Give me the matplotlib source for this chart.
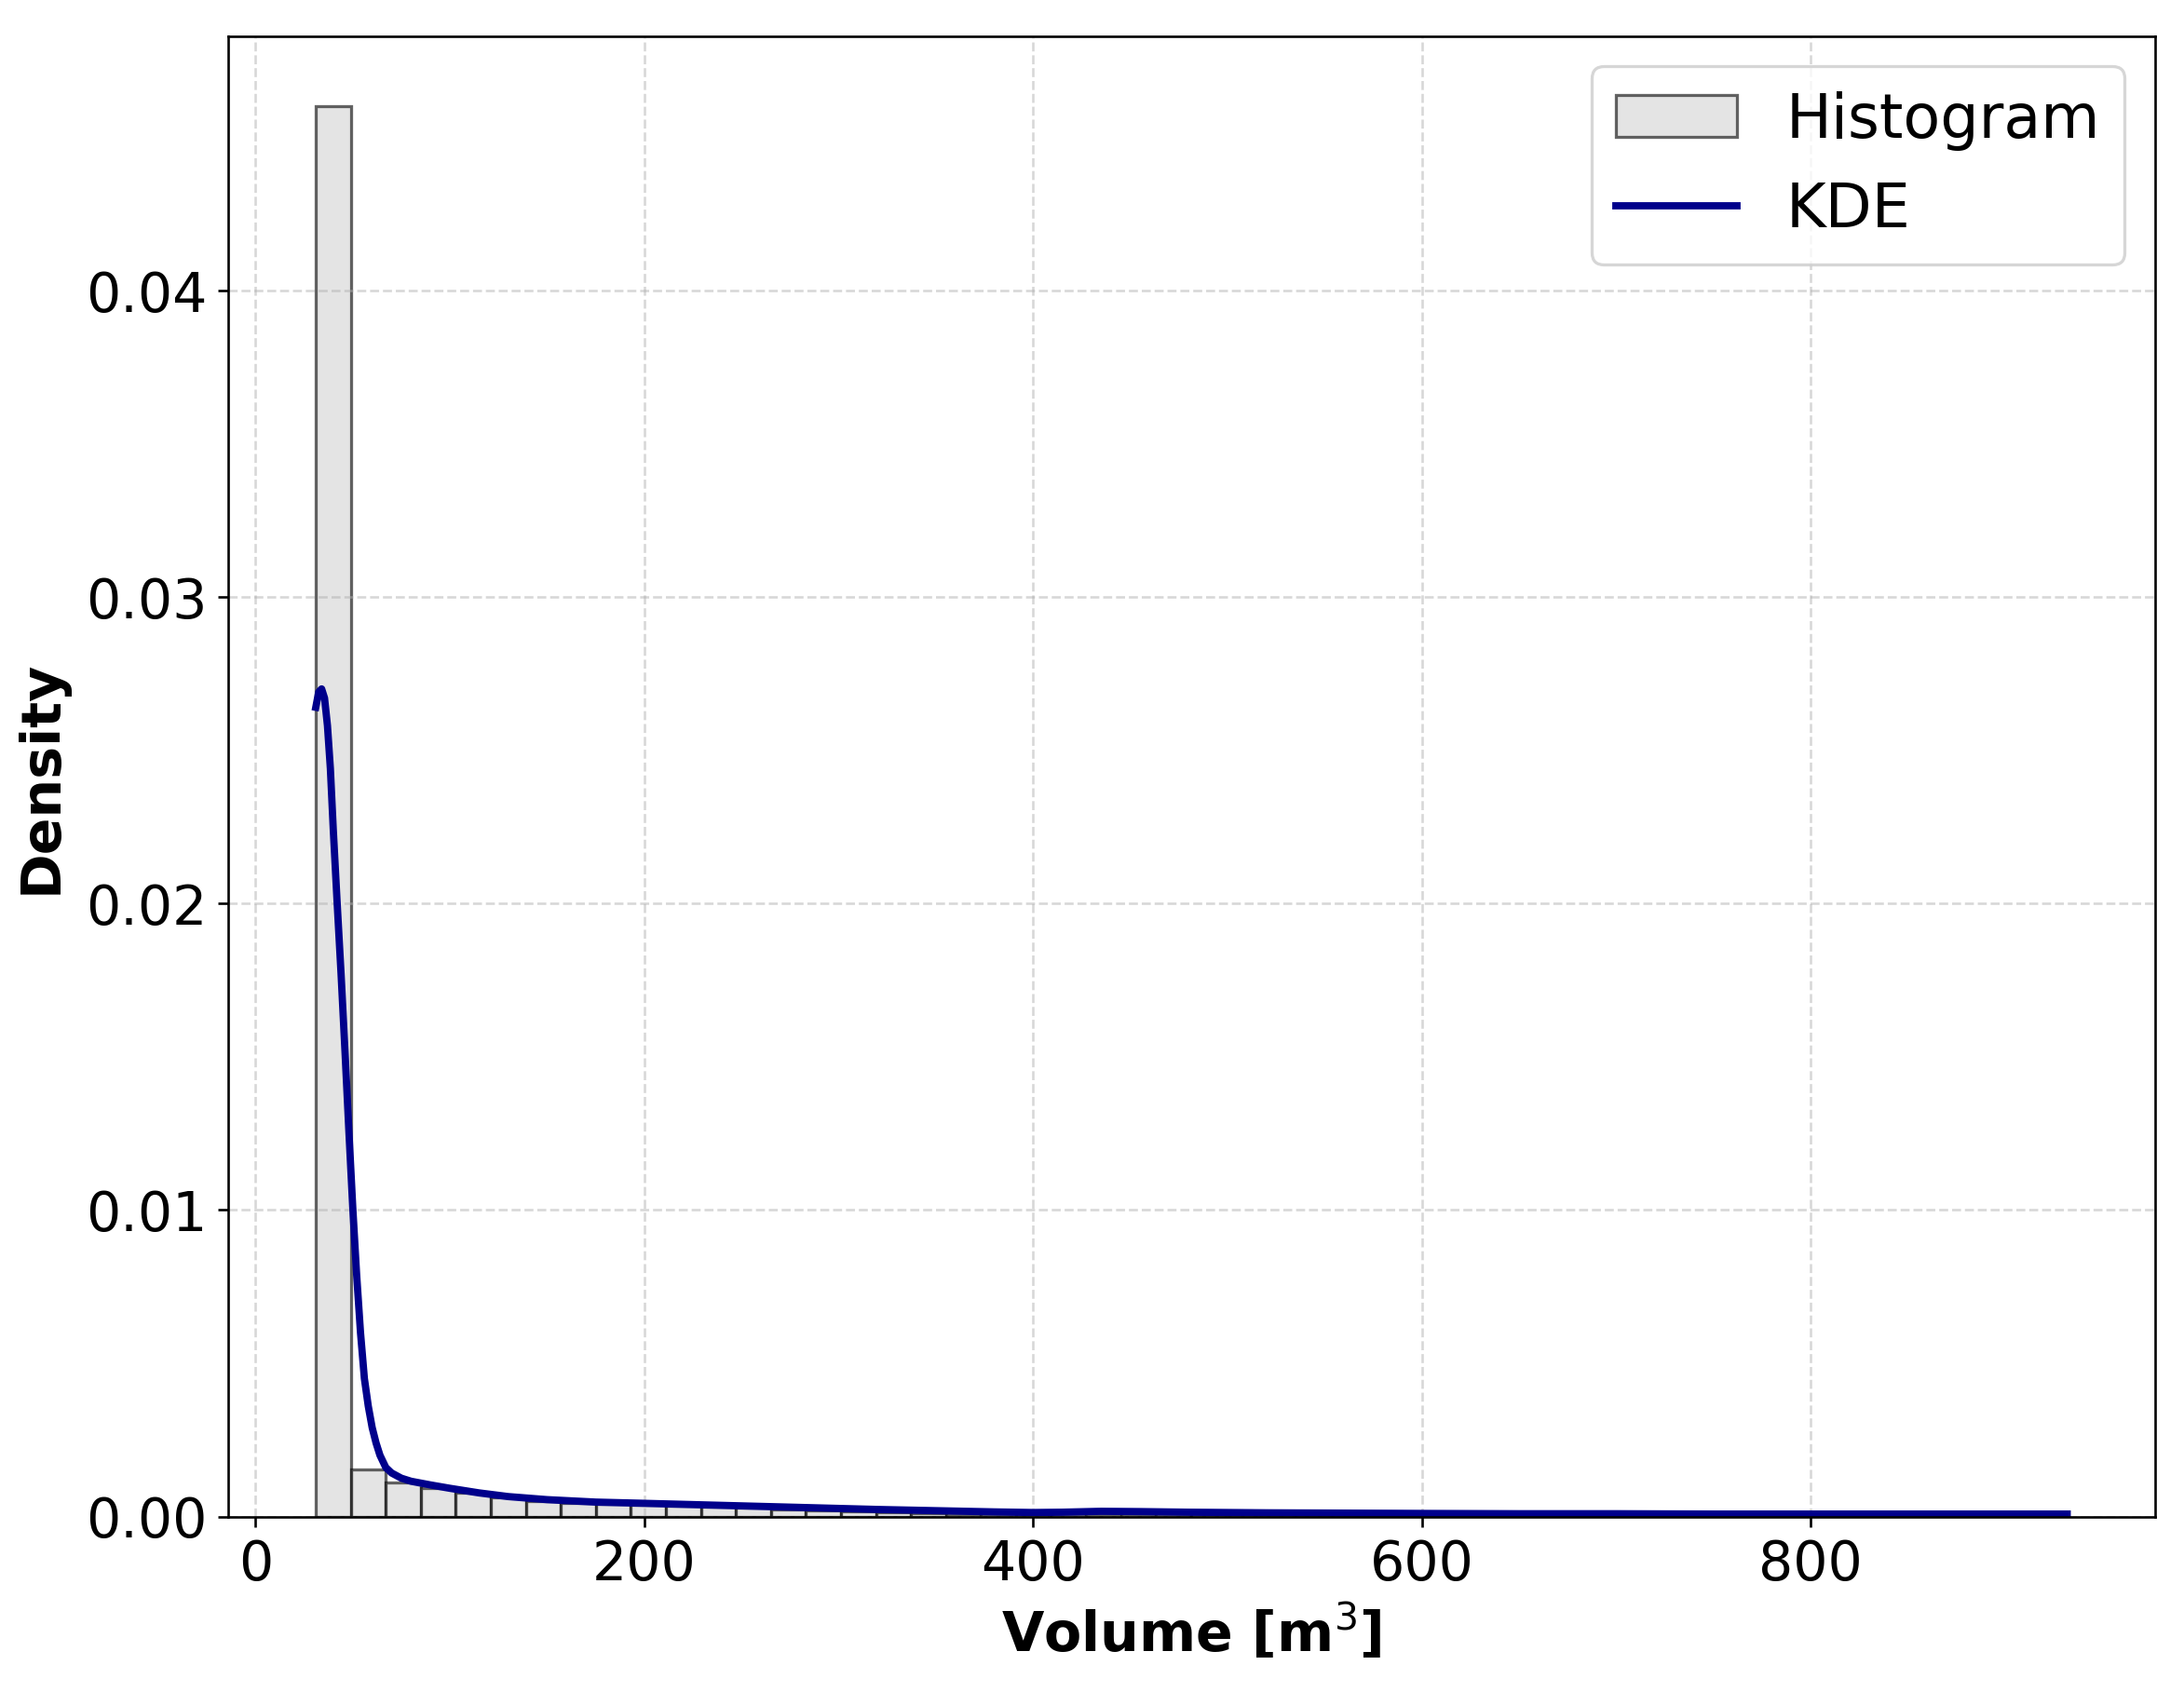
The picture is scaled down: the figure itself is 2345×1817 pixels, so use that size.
import numpy as np
import matplotlib
matplotlib.use('Agg')
import matplotlib.pyplot as plt

# histogram of the volumes: 50 bins between the smallest and the largest value
vol_min = 31.0
vol_max = 931.6
n_bins = 50
hist_density = [0.0460, 0.00155, 0.00112, 0.00093, 0.00078, 0.00063, 0.00050, 0.00043, 0.00040, 0.00037,
                0.00034, 0.00031, 0.00028, 0.00024, 0.00021, 0.00018, 0.00015, 0.00012, 0.00009, 0.00006,
                0.00003, 0.00002, 0.00008, 0.00008, 0.00006, 0.00003, 0.00002, 0.00002, 0.00001, 0.00001,
                0.00001, 0.0, 0.00001, 0.0, 0.0, 0.00001, 0.0, 0.0, 0.0, 0.00001,
                0.0, 0.0, 0.0, 0.0, 0.00001, 0.0, 0.0, 0.0, 0.0, 0.00001]

# KDE curve, points
kde_x = [31, 32.5, 34, 35.5, 37, 38.5, 40, 42, 44, 46, 48, 50, 52, 54, 56, 58, 60, 62, 64, 67,
         70, 75, 80, 90, 100, 115, 130, 150, 175, 200, 230, 260, 290, 320, 350, 380, 400, 415, 435, 455,
         480, 520, 560, 600, 650, 700, 750, 800, 850, 900, 932]
kde_y = [0.0264, 0.0269, 0.0270, 0.0267, 0.0258, 0.0244, 0.0224, 0.0200, 0.0177, 0.0152,
         0.0126, 0.0101, 0.0079, 0.0060, 0.0045, 0.0036, 0.0029, 0.0024, 0.0020, 0.0016,
         0.00142, 0.00125, 0.00115, 0.00103, 0.00092, 0.00077, 0.00065, 0.00055, 0.00047, 0.00043,
         0.00038, 0.00033, 0.00028, 0.00023, 0.00019, 0.00015, 0.00013, 0.00014, 0.00017, 0.00016,
         0.00014, 0.00012, 0.00011, 0.00010, 0.00009, 0.00009, 0.00008, 0.00008, 0.00008, 0.00008,
         0.00008]


def plot_volume_distribution():
    fig, ax = plt.subplots(figsize=(10, 7.75))
    fig.subplots_adjust(left=0.1045, right=0.9866, bottom=0.1037, top=0.9785)

    edges = np.linspace(vol_min, vol_max, n_bins + 1)
    centers = (edges[:-1] + edges[1:]) / 2
    # weights = density, so the bars get exactly the heights of the original plot
    ax.hist(centers, bins=edges, weights=hist_density, color='lightgray', edgecolor='black',
            alpha=0.6, linewidth=1.0, label='Histogram')
    ax.plot(kde_x, kde_y, color='darkblue', linewidth=2.4, label='KDE')

    ax.set_xlabel(r'Volume [m$^3$]', fontsize=18, fontweight='bold', labelpad=4)
    ax.set_ylabel('Density', fontsize=18, fontweight='bold', labelpad=6)
    ax.tick_params(axis='both', labelsize=18)
    ax.grid(True, linestyle='--', alpha=0.5)
    ax.legend(fontsize=20, loc='upper right')

    fig.savefig('out.png', dpi=234.5)


if __name__ == '__main__':
    plot_volume_distribution()
